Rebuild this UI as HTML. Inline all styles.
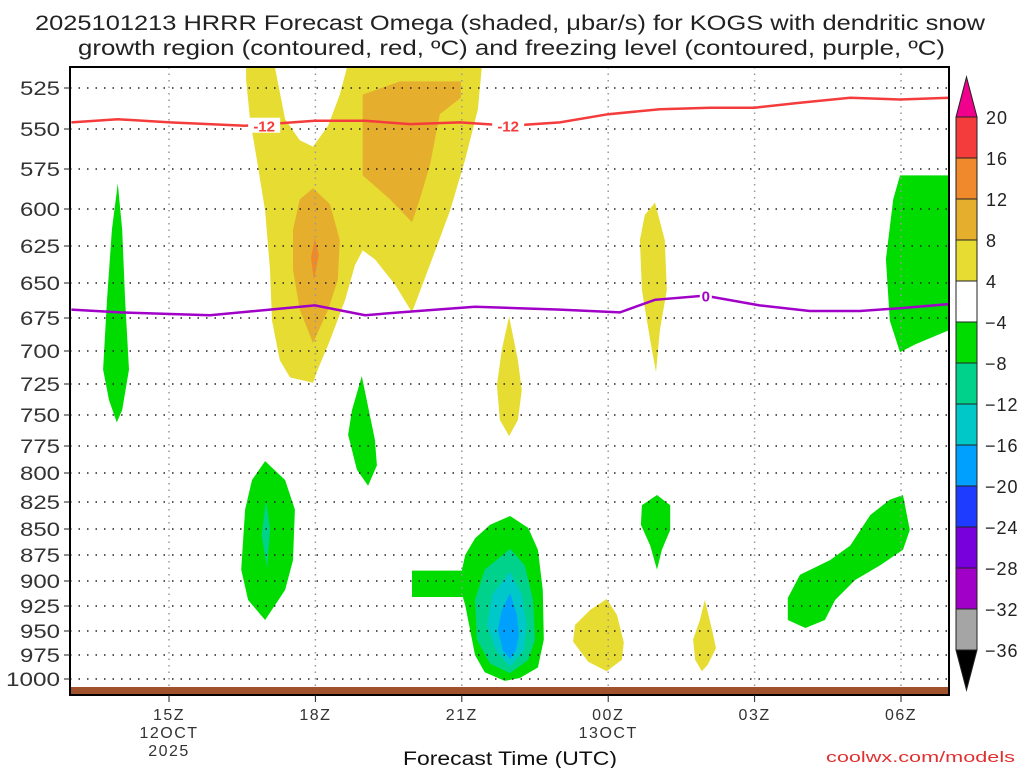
<!DOCTYPE html>
<html><head><meta charset="utf-8">
<style>
html,body{margin:0;padding:0;background:#fff;}
svg{display:block;font-family:"Liberation Sans",sans-serif;}
</style></head>
<body>
<svg id="chart" width="1024" height="768" viewBox="0 0 1024 768" xmlns="http://www.w3.org/2000/svg">
<text x="35" y="30" font-size="21" textLength="950" lengthAdjust="spacingAndGlyphs" fill="#222">2025101213 HRRR Forecast Omega (shaded, μbar/s) for KOGS with dendritic snow</text>
<text x="78" y="55" font-size="21" textLength="867" lengthAdjust="spacingAndGlyphs" fill="#222">growth region (contoured, red, ºC) and freezing level (contoured, purple, ºC)</text>
<g id="shades"></g>
<g id="grid"></g>
<g id="lines"></g>
<rect x="70" y="687" width="879" height="8" fill="#a0522d"/>
<rect x="70" y="67" width="879" height="628" fill="none" stroke="#000" stroke-width="2"/>
<g id="axes"></g>
<g id="cbar"></g>
<text x="403" y="765" font-size="19" textLength="214" lengthAdjust="spacingAndGlyphs" fill="#111">Forecast Time (UTC)</text>
<text x="826" y="762" font-size="15" textLength="189" lengthAdjust="spacingAndGlyphs" fill="#e03030">coolwx.com/models</text>
</svg>
<script>
// ---- axis data ----
const pTicks=[525,550,575,600,625,650,675,700,725,750,775,800,825,850,875,900,925,950,975,1000];
const pTickY=[88,129,169,209,246,283,318,351,384,415,446,473,502,529,555,581,606,631,655,679];
const timeTickHours=[2,5,8,11,14,17];
const timeTickLabels=[["15Z","12OCT","2025"],["18Z"],["21Z"],["00Z","13OCT"],["03Z"],["06Z"]];
const cbarLevels=["20","16","12","8","4","−4","−8","−12","−16","−20","−24","−28","−32","−36"];
const cbarColors=["#f53c3c","#f0882c","#e6ae2d","#e6dc32","#ffffff","#00dc00","#00d28c","#00c8c8","#00a0ff","#1e3cff","#7800dc","#a000c8","#a5a5a5"];
// ---- shaded omega regions [hours since 13Z, hPa] ----
const yellowBig=[[3.58,512],[4.17,512],[4.38,544],[4.68,557],[4.95,561],[5.26,548],[5.5,529],[5.65,512],[8.41,512],[8.33,538],[8.07,569],[7.76,601],[7.39,634],[6.98,671],[6.63,651],[6.22,634],[5.97,628],[5.81,638],[5.61,662],[5.3,692],[5.05,714],[4.95,724],[4.48,720],[4.27,707],[4.11,677],[4.07,641],[3.97,601],[3.8,569],[3.66,544],[3.58,520]];
const orange1=[[5.97,529],[6.73,521],[7.98,521],[7.98,531],[7.55,541],[7.35,572],[7.14,594],[6.98,609],[6.53,594],[5.97,579]];
const orange2=[[4.95,587],[5.3,597],[5.5,621],[5.46,648],[5.26,669],[4.95,694],[4.68,669],[4.54,641],[4.54,614],[4.68,594]];
const orange3=[[4.99,620],[5.07,631],[5.01,641],[4.97,648],[4.91,633]];
const greenLeft=[[0.95,584],[1.04,614],[1.1,662],[1.18,714],[1.04,746],[0.93,756],[0.77,738],[0.65,714],[0.73,662],[0.83,614]];
const green19=[[5.95,719],[6.22,770],[6.26,793],[6.08,811],[5.85,797],[5.67,766],[5.75,746]];
const yellow22=[[8.97,674],[9.15,707],[9.23,730],[9.15,754],[8.97,767],[8.78,754],[8.72,726],[8.82,699]];
const yellow01=[[11.96,596],[12.16,621],[12.2,655],[12.06,684],[11.98,716],[11.86,692],[11.69,655],[11.65,621],[11.75,604]];
const greenRight=[[16.98,579],[18,579],[18,684],[17.29,695],[16.98,701],[16.77,677],[16.69,634],[16.84,594]];
const green17=[[3.97,789],[4.38,806],[4.58,832],[4.54,880],[4.38,909],[3.97,939],[3.62,919],[3.48,889],[3.56,832],[3.7,806]];
const teal17=[[3.99,823],[4.07,851],[4.01,888],[3.9,856]];
const green22=[[8.99,838],[9.36,849],[9.56,870],[9.66,909],[9.68,959],[9.56,988],[9.19,999],[8.88,1002],[8.47,993],[8.27,975],[8.17,949],[8.07,924],[8.02,916],[6.98,916],[6.98,890],[8.0,890],[8.07,875],[8.27,859],[8.58,846]];
const teal22=[[8.99,869],[9.29,885],[9.46,919],[9.5,959],[9.36,980],[8.99,994],[8.58,984],[8.31,959],[8.27,919],[8.47,889]];
const cyan22=[[8.99,891],[9.23,914],[9.33,944],[9.27,970],[8.99,987],[8.7,970],[8.52,944],[8.62,914]];
const blue22=[[8.99,912],[9.13,934],[9.17,954],[9.11,970],[8.99,979],[8.84,970],[8.74,949],[8.82,929]];
const yellow00=[[10.97,918],[11.18,934],[11.32,962],[11.28,980],[10.97,992],[10.59,982],[10.28,961],[10.32,944],[10.63,929]];
const yellow02=[[12.98,919],[13.13,949],[13.21,968],[13.04,985],[12.92,992],[12.78,980],[12.74,959],[12.88,939]];
const green01=[[12.0,819],[12.27,828],[12.27,851],[12.1,870],[12.0,889],[11.86,866],[11.67,846],[11.69,828]];
const green05=[[17.04,819],[17.18,851],[17.04,870],[16.57,885],[16.06,899],[15.65,919],[15.44,939],[15.04,947],[14.68,939],[14.68,917],[14.93,894],[15.54,880],[15.96,866],[16.37,837],[16.77,823]];
// ---- contour lines ----
const redHours=[0,0.95,2.02,3.56,4.99,6.02,6.94,7.96,8.99,10.01,11.0,12.06,13.09,14.0,14.93,15.96,16.98,18];
const redP=[546,544,546,548,545,545,547,546,548,546,541,538,537,537,534,531,532,531];
const purpleHours=[0,1.0,2.84,4.99,6.02,6.73,8.27,10.01,11.24,11.96,12.98,14.1,15.13,16.16,16.98,18];
const purpleP=[669,671,673,666,673,671,667,669,671,662,659,666,670,670,668,665];

const X0=71.4, PXH=48.8;
function xOf(h){return X0+h*PXH;}
function yOf(p){
  const n=pTicks.length;
  let i=0;
  if(p<=pTicks[0]) i=0; else if(p>=pTicks[n-1]) i=n-2; else {while(p>pTicks[i+1]) i++;}
  const t=(p-pTicks[i])/(pTicks[i+1]-pTicks[i]);
  return Math.max(67,pTickY[i]+t*(pTickY[i+1]-pTickY[i]));
}
const NS="http://www.w3.org/2000/svg";
function mk(tag,attrs,parent){const e=document.createElementNS(NS,tag);for(const k in attrs)e.setAttribute(k,attrs[k]);parent.appendChild(e);return e;}
function pts(arr){return arr.map(d=>xOf(d[0]).toFixed(1)+","+yOf(d[1]).toFixed(1)).join(" ");}

const shades=document.getElementById('shades');
const layers=[
 [yellowBig,"#e6dc32","shade-yellow-upper"],[orange1,"#e6ae2d","shade-orange-upper"],[orange2,"#e6ae2d","shade-orange-lower"],[orange3,"#f0882c","shade-darkorange"],
 [greenLeft,"#00dc00","shade-green-left"],[green19,"#00dc00","shade-green-19z"],[yellow22,"#e6dc32","shade-yellow-22z"],[yellow01,"#e6dc32","shade-yellow-01z"],
 [greenRight,"#00dc00","shade-green-right"],[green17,"#00dc00","shade-green-17z"],[teal17,"#00d28c","shade-teal-17z"],
 [green22,"#00dc00","shade-green-22z"],[teal22,"#00d28c","shade-teal-22z"],[cyan22,"#00c8c8","shade-cyan-22z"],[blue22,"#00a0ff","shade-blue-22z"],
 [yellow00,"#e6dc32","shade-yellow-00z"],[yellow02,"#e6dc32","shade-yellow-02z"],[green01,"#00dc00","shade-green-01z"],[green05,"#00dc00","shade-green-05z"]];
layers.forEach(L=>{
 const e=mk('polygon',{points:pts(L[0]),fill:L[1]},shades);
 
 
});

const grid=document.getElementById('grid');
pTicks.forEach((p,i)=>{
 const y=yOf(p);
 const l=mk('line',{x1:70,x2:949,y1:y,y2:y,stroke:"#222","stroke-width":1.5,"stroke-dasharray":"1.5 7"},grid);
 
 
});
timeTickHours.forEach(h=>{
 const x=xOf(h);
 const l=mk('line',{x1:x,x2:x,y1:67,y2:695,stroke:"#999","stroke-width":1.5,"stroke-dasharray":"1.5 5"},grid);
 
 
});

const lines=document.getElementById('lines');
function lp(hs,ps){return hs.map((h,i)=>xOf(h).toFixed(1)+","+yOf(ps[i]).toFixed(1)).join(" ");}
const red=mk('polyline',{points:lp(redHours,redP),fill:"none",stroke:"#f53c3c","stroke-width":2.5},lines);


const pur=mk('polyline',{points:lp(purpleHours,purpleP),fill:"none",stroke:"#a000c8","stroke-width":2.5},lines);


[[3.95,"-12",548],[8.95,"-12",548]].forEach(d=>{
 const x=xOf(d[0]), y=yOf(d[2]);
 const r=mk('rect',{x:x-16,y:y-8,width:32,height:15,fill:"#fff"},lines);
 
 
 const t=mk('text',{x:x,y:y+6,"font-size":15,"font-weight":"bold","text-anchor":"middle",fill:"#f53c3c"},lines);
 t.textContent=d[1];
 
 
});
{
 const x=xOf(13.0), y=yOf(659);
 const r=mk('rect',{x:x-6,y:y-7,width:12,height:14,fill:"#fff"},lines);
 
 
 const t=mk('text',{x:x,y:y+6,"font-size":15,"font-weight":"bold","text-anchor":"middle",fill:"#a000c8"},lines);
 t.textContent="0";
 
 
}

const axes=document.getElementById('axes');
pTicks.forEach(p=>{
 const y=yOf(p);
 const tk=mk('line',{x1:64,x2:70,y1:y,y2:y,stroke:"#222","stroke-width":1},axes);
 
 
 const s=String(p);
 const t=mk('text',{x:62-s.length*14,y:y+7,"font-size":19,textLength:s.length*14-2,lengthAdjust:"spacingAndGlyphs",fill:"#333"},axes);
 t.textContent=s;
 
 
});
timeTickHours.forEach((h,i)=>{
 const x=xOf(h);
 const tk=mk('line',{x1:x,x2:x,y1:695,y2:702,stroke:"#222","stroke-width":1},axes);
 
 
 timeTickLabels[i].forEach((s,j)=>{
  const t=mk('text',{x:x,y:720+j*18,"font-size":16,"text-anchor":"middle","letter-spacing":1.5,fill:"#333"},axes);
  t.textContent=s;
  
  
 });
});

const cb=document.getElementById('cbar');
const CX=956, CW=21, CTOP=117, CH=41;
const tip=mk('polygon',{points:`${CX},${CTOP} ${CX+CW},${CTOP} ${CX+CW/2},77`,fill:"#f0008c",stroke:"#222","stroke-width":1},cb);


cbarColors.forEach((c,i)=>{
 const r=mk('rect',{x:CX,y:CTOP+i*CH,width:CW,height:CH,fill:c,stroke:"#222","stroke-width":1},cb);
 
 
});
const bot=CTOP+cbarColors.length*CH;
const tip2=mk('polygon',{points:`${CX},${bot} ${CX+CW},${bot} ${CX+CW/2},690`,fill:"#000",stroke:"#222","stroke-width":1},cb);


cbarLevels.forEach((s,i)=>{
 const t=mk('text',{x:s.startsWith("−")?985:986,y:CTOP+i*CH+7,"font-size":18,"letter-spacing":1,fill:"#222"},cb);
 t.textContent=s;
 
 
});
</script>
</body></html>
